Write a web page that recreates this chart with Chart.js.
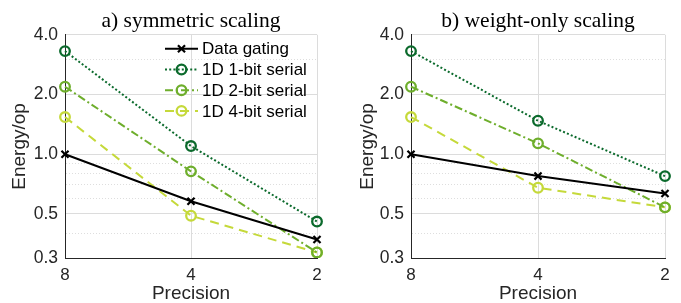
<!DOCTYPE html>
<html>
<head>
<meta charset="utf-8">
<script src="https://cdn.jsdelivr.net/npm/chart.js@4.4.0/dist/chart.umd.min.js"></script>
<style>
    html, body { margin:0; padding:0; background:#fff; }
    #wrap { position:relative; width:681px; height:303px; }
    #wrap canvas { position:absolute; top:0; }
</style>
</head>
<body>
<div id="wrap">
    <canvas id="left" width="340" height="303" style="left:0"></canvas>
    <canvas id="right" width="341" height="303" style="left:340px"></canvas>
</div>
<script>
// precision (x axis) and series names
var precision = ['8', '4', '2'];
var seriesNames = ['Data gating', '1D 1-bit serial', '1D 2-bit serial', '1D 4-bit serial'];

// a) symmetric scaling
var symGating = [1.0, 0.58, 0.372];
var sym1bit   = [3.31, 1.10, 0.458];
var sym2bit   = [2.19, 0.82, 0.32];
var sym4bit   = [1.54, 0.49, 0.32];

// b) weight-only scaling
var wGating = [1.0, 0.776, 0.634];
var w1bit   = [3.31, 1.475, 0.776];
var w2bit   = [2.19, 1.135, 0.54];
var w4bit   = [1.54, 0.678, 0.54];

// y ticks (log axis)
var majorTicks = [0.3, 0.5, 1, 2, 4];
var minorTicks = [0.4, 0.6, 0.7, 0.8, 0.9, 3];

var SANS = 'Liberation Sans';
var SERIF = 'Liberation Serif';

function isMinor(c){
    return c.tick && minorTicks.indexOf(c.tick.value) >= 0;
}

// legend drawn inside the plot area, top right
var insideLegend = {
    id: 'insideLegend',
    afterDraw: function(chart, args, opts){
        if (!opts.show) return;
        var ctx = chart.ctx, area = chart.chartArea;
        var x0 = area.right - opts.width, y0 = area.top + opts.top;
        chart.data.datasets.forEach(function(ds, i){
            var y = y0 + i * opts.rowHeight;
            ctx.save();
            ctx.strokeStyle = ds.borderColor;
            ctx.lineWidth = ds.borderWidth;
            ctx.setLineDash(ds.borderDash || []);
            ctx.beginPath();
            ctx.moveTo(x0, y);
            ctx.lineTo(x0 + opts.sample, y);
            ctx.stroke();
            ctx.setLineDash([]);
            ctx.lineWidth = ds.pointBorderWidth;
            ctx.fillStyle = 'rgba(0,0,0,0)';
            Chart.helpers.drawPoint(ctx, {pointStyle: ds.pointStyle, radius: ds.pointRadius, borderWidth: ds.pointBorderWidth, rotation: 0}, x0 + opts.sample / 2, y);
            ctx.fillStyle = '#000';
            ctx.font = '17px "' + SANS + '"';
            ctx.textBaseline = 'middle';
            ctx.fillText(ds.label, x0 + opts.sample + 4, y + 1);
            ctx.restore();
        });
    }
};

function makeDatasets(vals){
    return [
        {label: seriesNames[0], data: vals[0], borderColor: '#000', borderWidth: 2, borderDash: [],
         pointStyle: 'crossRot', pointRadius: 5, pointBorderWidth: 2.2, pointBorderColor: '#000', pointBackgroundColor: 'rgba(0,0,0,0)'},
        {label: seriesNames[1], data: vals[1], borderColor: '#0b6a2c', borderWidth: 2, borderDash: [2, 2.2],
         pointStyle: 'circle', pointRadius: 4.8, pointBorderWidth: 2.3, pointBorderColor: '#0b6a2c', pointBackgroundColor: 'rgba(0,0,0,0)'},
        {label: seriesNames[2], data: vals[2], borderColor: '#6eae2c', borderWidth: 2, borderDash: [8, 3, 2, 3],
         pointStyle: 'circle', pointRadius: 4.8, pointBorderWidth: 2.3, pointBorderColor: '#6eae2c', pointBackgroundColor: 'rgba(0,0,0,0)'},
        {label: seriesNames[3], data: vals[3], borderColor: '#c5d93a', borderWidth: 2, borderDash: [9, 6],
         pointStyle: 'circle', pointRadius: 4.8, pointBorderWidth: 2.3, pointBorderColor: '#c5d93a', pointBackgroundColor: 'rgba(0,0,0,0)'}
    ];
}

function makeChart(id, title, vals, pad, yWidth, legendOn){
    return new Chart(document.getElementById(id), {
        type: 'line',
        data: { labels: precision, datasets: makeDatasets(vals) },
        options: {
            responsive: false,
            animation: false,
            layout: { padding: pad },
            elements: { line: { tension: 0 } },
            plugins: {
                legend: { display: false },
                tooltip: { enabled: false },
                title: {
                    display: true, text: title, fullSize: false, color: '#000',
                    font: { family: SERIF, size: 21.5, weight: 'normal' },
                    padding: { top: 8, bottom: 1 }
                },
                insideLegend: { show: legendOn, width: 152, top: 14, rowHeight: 20.7, sample: 33 }
            },
            scales: {
                x: {
                    type: 'category', offset: false,
                    afterFit: function(s){ s.height = 45; },
                    grid: { color: '#dcdcdc', drawTicks: false, offset: false },
                    border: { color: '#262626', width: 1 },
                    ticks: { color: '#262626', font: { family: SANS, size: 17 }, padding: 7 },
                    title: { display: true, text: 'Precision', color: '#262626', font: { family: SANS, size: 19 }, padding: { top: 0, bottom: -2 } }
                },
                y: {
                    type: 'logarithmic', min: 0.3, max: 4,
                    afterFit: function(s){ s.width = yWidth; },
                    afterBuildTicks: function(s){
                        s.ticks = majorTicks.concat(minorTicks).sort(function(a, b){ return a - b; })
                            .map(function(v){ return { value: v }; });
                    },
                    grid: {
                        drawTicks: false,
                        color: function(c){ return isMinor(c) ? '#dedede' : '#dcdcdc'; }
                    },
                    border: {
                        color: '#262626', width: 1,
                        dash: function(c){ return isMinor(c) ? [1, 2] : []; }
                    },
                    ticks: {
                        autoSkip: false, color: '#262626', padding: 7,
                        font: { family: SANS, size: 17.5 },
                        callback: function(v){ return majorTicks.indexOf(v) >= 0 ? v.toFixed(1) : ''; }
                    },
                    title: { display: true, text: 'Energy/op', color: '#262626', font: { family: SANS, size: 19 }, padding: { top: 4, bottom: 4 } }
                }
            }
        },
        plugins: [insideLegend]
    });
}

makeChart('left', 'a) symmetric scaling', [symGating, sym1bit, sym2bit, sym4bit],
    { left: 4, right: 23, top: 0, bottom: 0 }, 61, true);
makeChart('right', 'b) weight-only scaling', [wGating, w1bit, w2bit, w4bit],
    { left: 12, right: 16, top: 0, bottom: 0 }, 59, false);
</script>
</body>
</html>
